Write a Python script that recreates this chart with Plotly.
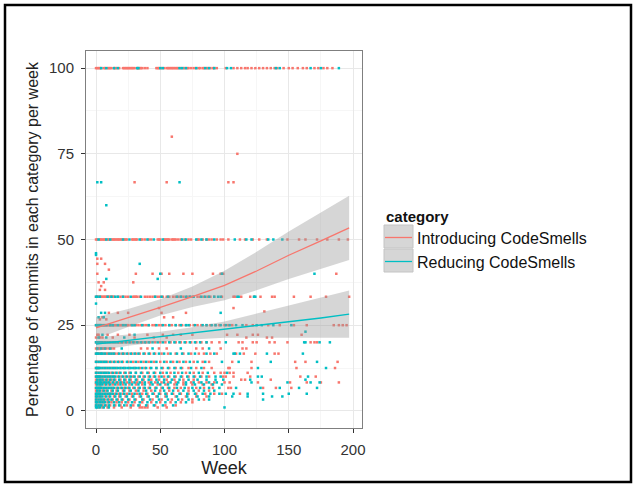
import plotly.graph_objects as go

# ---------------- data ----------------
SERIES = ["Introducing CodeSmells", "Reducing CodeSmells"]
COLORS = ["#F8766D", "#00BFC4"]

# Introducing CodeSmells: percentage level -> weeks where a point sits
INTRO_LEVELS = [100, 80, 75, 66.7, 50, 44.4, 42.9, 41.2, 40, 37.5, 36.4, 35.3,
                33.3, 30, 29, 28.6, 27.3, 26.7, 25, 22.2, 21.4, 20, 18.2, 16.7,
                14.3, 12.5, 11.1, 10, 9.1, 8.3, 7.7, 6.7, 5.9, 5, 4.2, 3.3,
                2.5, 1.6, 1]
INTRO_WEEKS = [
    [0, 1, 2, 3, 4, 6, 7, 9, 10, 11, 12, 14, 15, 16, 18, 21, 22, 23, 24, 25, 26, 27, 28, 29, 30, 32, 33, 34, 35, 36, 38, 40,
     47, 48, 49, 51, 53, 55, 56, 57, 58, 59, 60, 61, 62, 63, 64, 66, 68, 69, 71, 72, 74, 76, 78, 80, 81, 83, 84, 86, 87, 89,
     91, 92, 94, 101, 107, 110, 113, 116, 118, 121, 124, 127, 130, 133, 136, 139, 141, 146, 150, 153, 157, 161, 164, 170,
     173, 177, 180, 184],
    [59],
    [110],
    [30, 55, 103, 107],
    [0, 1, 3, 4, 5, 6, 7, 9, 10, 12, 13, 14, 15, 16, 17, 18, 19, 20, 22, 23, 24, 28, 29, 30, 31, 32, 35, 36, 38, 41, 43, 48,
     49, 50, 53, 54, 55, 56, 57, 59, 60, 61, 62, 64, 66, 69, 72, 74, 79, 80, 83, 86, 88, 90, 94, 97, 99, 103, 112, 116, 122,
     127, 133, 149, 158, 163, 172, 180, 189, 196],
    [1, 4],
    [1, 7],
    [10],
    [1, 31, 44, 51, 57, 68, 75, 91, 97, 99, 187],
    [2, 6, 29],
    [4],
    [3, 7],
    [0, 1, 2, 3, 4, 5, 6, 7, 8, 9, 10, 11, 12, 13, 14, 17, 19, 21, 23, 25, 29, 30, 31, 32, 34, 38, 40, 42, 44, 46, 48, 50,
     52, 55, 57, 60, 62, 64, 66, 68, 71, 73, 75, 79, 81, 84, 87, 89, 92, 98, 107, 108, 113, 120, 123, 128, 137, 139, 154,
     167, 179, 197],
    [49, 107],
    [131],
    [10, 17, 25, 51, 70],
    [5, 53, 60],
    [3, 8],
    [0, 1, 2, 3, 4, 5, 6, 7, 8, 9, 10, 11, 12, 13, 14, 15, 16, 18, 19, 20, 22, 24, 25, 27, 29, 31, 33, 35, 37, 39, 41, 44,
     46, 49, 51, 54, 57, 59, 62, 65, 67, 70, 73, 76, 79, 82, 86, 89, 93, 96, 100, 103, 106, 117, 122, 134, 143, 154, 164,
     185, 189, 192, 195],
    [1, 2, 9, 17, 26, 40, 52, 60, 66, 75, 102, 110, 122, 126, 160],
    [0, 3, 5, 13, 30, 45, 55, 117, 133, 137],
    [0, 1, 2, 3, 4, 5, 6, 8, 10, 12, 14, 16, 18, 19, 21, 24, 27, 30, 33, 36, 39, 42, 46, 50, 54, 58, 62, 66, 70, 74, 78, 82,
     86, 90, 96, 111, 114, 122, 125, 135, 139, 149, 167, 170, 172],
    [0, 1, 2, 3, 5, 6, 8, 10, 12, 14, 35, 40, 49, 55, 78, 83, 97, 114, 117],
    [0, 1, 2, 3, 4, 6, 8, 9, 11, 13, 15, 17, 20, 22, 25, 28, 31, 34, 38, 42, 46, 51, 56, 62, 68, 74, 80, 84, 89, 94, 109,
     115, 124, 139, 142],
    [0, 1, 3, 5, 7, 9, 12, 15, 18, 21, 25, 29, 33, 37, 41, 45, 50, 55, 60, 65, 70, 76, 83, 88, 106, 121, 155, 163, 188],
    [0, 1, 2, 4, 6, 8, 10, 12, 14, 16, 19, 22, 26, 30, 34, 38, 42, 47, 52, 57, 62, 67, 72, 78, 84, 90, 103, 104, 121, 156,
     186],
    [0, 1, 3, 5, 7, 9, 12, 15, 18, 22, 26, 31, 36, 41, 46, 52, 58, 64, 70, 76, 83, 92, 97, 100, 104, 107, 118],
    [0, 1, 2, 3, 4, 6, 8, 10, 12, 14, 17, 20, 23, 26, 29, 33, 37, 41, 45, 49, 53, 57, 62, 67, 72, 77, 82, 88, 99, 101, 107,
     120, 159, 171],
    [0, 2, 4, 6, 9, 12, 15, 19, 23, 27, 32, 37, 43, 49, 55, 61, 68, 76, 113, 116, 136],
    [0, 1, 2, 3, 5, 7, 9, 11, 14, 17, 20, 24, 28, 32, 36, 41, 46, 51, 56, 62, 68, 74, 80, 86, 92, 100, 104, 126, 151, 164,
     175, 189],
    [0, 2, 4, 7, 10, 13, 17, 21, 26, 31, 36, 42, 48, 54, 61, 68, 75, 83, 90],
    [0, 1, 2, 3, 4, 5, 7, 9, 11, 13, 16, 19, 22, 25, 29, 33, 37, 41, 46, 51, 56, 61, 66, 72, 78, 84, 91, 103, 105, 130,
     140, 152],
    [0, 2, 5, 8, 12, 16, 21, 26, 31, 37, 43, 50, 57, 64, 72, 80, 88],
    [0, 1, 2, 3, 4, 6, 8, 10, 12, 15, 18, 21, 24, 28, 32, 36, 40, 45, 50, 55, 60, 66, 72, 78, 85, 92, 98, 112],
    [0, 2, 4, 7, 10, 14, 18, 23, 28, 34, 40, 47, 54, 62, 70, 78, 86],
    [0, 1, 3, 5, 7, 10, 13, 17, 21, 26, 31, 37, 44, 51, 59, 67, 75, 84],
    [0, 2, 4, 6, 9, 12, 16, 20, 25, 30, 36, 43, 50, 58, 66, 75],
    [0, 1, 3, 5, 8, 11, 15, 19, 24, 29, 34, 40, 46, 54, 62],
    [2, 5, 9, 14, 20, 27, 34, 36, 38, 40, 48, 55],
]

# Reducing CodeSmells
REDUCE_LEVELS = [100, 66.7, 60, 50, 46, 45.5, 42.9, 40, 38.5, 33.3, 31.3, 28.6,
                 27.3, 25, 23.1, 22.2, 21.4, 20, 18.2, 16.7, 14.3, 12.5, 11.1,
                 10, 9.1, 8.3, 7.7, 6.7, 5.9, 5, 4.2, 3.3, 2.5, 1.6, 1]
REDUCE_WEEKS = [
    [4, 8, 14, 17, 32, 33, 50, 52, 65, 67, 70, 78, 85, 88, 92, 102, 105, 140, 143, 167, 175, 189],
    [1, 4, 65],
    [8],
    [2, 8, 11, 21, 26, 34, 40, 45, 52, 67, 70, 78, 82, 86, 92, 108, 117, 121, 134, 138, 145],
    [0],
    [0],
    [34],
    [50, 98, 170],
    [8, 48],
    [0, 1, 3, 9, 12, 15, 17, 21, 27, 35, 46, 51, 56, 63, 66, 70, 73, 76, 82, 85, 88, 92, 95, 97, 110, 111, 123, 124],
    [0],
    [4, 7, 97],
    [2, 6],
    [0, 1, 2, 3, 4, 6, 8, 11, 13, 17, 21, 23, 28, 30, 36, 41, 47, 52, 57, 62, 66, 70, 72, 77, 83, 86, 90, 93, 97, 101, 104,
     109, 114, 125, 129, 138, 152],
    [163],
    [5, 30],
    [2, 8, 22],
    [0, 1, 2, 3, 4, 5, 7, 9, 11, 13, 15, 17, 20, 23, 26, 29, 32, 35, 38, 41, 44, 48, 52, 57, 61, 65, 69, 73, 77, 81, 86,
     101, 162, 163, 174, 182],
    [1, 4, 7, 11, 20, 44, 66, 88],
    [0, 1, 2, 4, 5, 7, 10, 12, 14, 18, 21, 24, 27, 30, 33, 37, 41, 45, 49, 53, 58, 63, 67, 72, 77, 86, 92, 107, 108, 112,
     133, 161],
    [0, 2, 4, 6, 8, 11, 14, 17, 20, 24, 27, 31, 35, 39, 43, 47, 53, 58, 63, 68, 73, 79, 85, 98, 111, 136, 172],
    [0, 1, 2, 3, 5, 7, 9, 11, 13, 15, 17, 19, 21, 23, 25, 27, 29, 31, 33, 36, 39, 43, 47, 51, 56, 61, 66, 74, 82, 126, 179],
    [0, 2, 4, 6, 8, 10, 13, 16, 19, 23, 27, 31, 35, 40, 45, 50, 55, 61, 67, 73, 80, 87, 102],
    [0, 1, 2, 3, 5, 7, 9, 11, 13, 15, 18, 21, 24, 27, 30, 34, 38, 42, 46, 51, 56, 61, 66, 71, 76, 81, 86, 93, 97, 126, 129,
     165],
    [1, 3, 5, 8, 11, 14, 18, 22, 26, 31, 36, 41, 47, 53, 59, 65, 72, 79, 86, 93, 99, 120, 163],
    [0, 1, 3, 4, 6, 8, 10, 13, 16, 19, 22, 26, 30, 34, 38, 43, 48, 53, 58, 64, 70, 76, 82, 88, 94, 121, 149, 167, 174],
    [1, 3, 5, 8, 11, 15, 19, 23, 28, 33, 38, 44, 50, 56, 63, 70, 77, 84, 91, 98],
    [0, 1, 2, 3, 4, 6, 8, 10, 12, 14, 17, 20, 23, 26, 30, 34, 38, 42, 47, 52, 57, 63, 69, 75, 81, 88, 96, 109, 128, 143,
     158, 172],
    [1, 3, 6, 9, 13, 17, 22, 27, 33, 39, 46, 53, 60, 68, 76, 84, 92],
    [0, 1, 2, 3, 5, 7, 9, 11, 13, 16, 19, 22, 26, 30, 34, 39, 44, 49, 54, 59, 65, 71, 77, 83, 89, 96, 101, 107, 118, 130,
     150, 164],
    [0, 1, 3, 5, 8, 11, 15, 19, 24, 29, 35, 41, 48, 55, 63, 71, 79, 88, 106, 118, 137, 145],
    [0, 2, 4, 6, 9, 12, 16, 20, 25, 30, 36, 42, 49, 56, 64, 72, 80, 88, 130],
    [0, 1, 3, 5, 7, 10, 14, 18, 23, 28, 34, 40, 47, 54, 62, 70],
    [0, 2, 4, 7, 10, 14, 18, 22, 27, 33, 39, 45, 52, 60],
    [0, 1, 3, 6, 10, 100],
]

# smoothed trend with confidence band
SMOOTH_WEEKS = [0, 25, 50, 75, 100, 125, 150, 175, 197]
INTRO_FIT = [24.2, 27.1, 30.2, 33.3, 36.6, 40.8, 45.4, 49.6, 53.4]
INTRO_LOW = [21.0, 24.5, 27.8, 30.3, 32.3, 35.2, 38.5, 41.4, 44.0]
INTRO_HIGH = [27.4, 29.7, 32.6, 36.3, 40.9, 46.4, 52.3, 57.8, 62.8]
REDUCE_FIT = [19.5, 20.6, 21.6, 22.6, 23.7, 24.9, 26.0, 27.1, 28.2]
REDUCE_LOW = [17.5, 19.0, 20.1, 20.8, 21.3, 21.4, 21.3, 21.3, 21.3]
REDUCE_HIGH = [21.5, 22.2, 23.1, 24.4, 26.1, 28.4, 30.7, 32.9, 35.1]

X_TICKS = [0, 50, 100, 150, 200]
Y_TICKS = [0, 25, 50, 75, 100]


def flatten(levels, weeks):
    xs, ys = [], []
    for lv, wk in zip(levels, weeks):
        for w in wk:
            xs.append(w)
            ys.append(lv)
    return xs, ys


fig = go.Figure()

for name, col, lv, wk in [(SERIES[0], COLORS[0], INTRO_LEVELS, INTRO_WEEKS),
                          (SERIES[1], COLORS[1], REDUCE_LEVELS, REDUCE_WEEKS)]:
    xs, ys = flatten(lv, wk)
    fig.add_trace(go.Scatter(x=xs, y=ys, mode="markers", name=name, showlegend=False,
                             marker=dict(symbol="square", size=2.5, color=col, line=dict(width=0))))

BAND = "rgba(153,153,153,0.4)"
for col, fit, lo, hi in [(COLORS[0], INTRO_FIT, INTRO_LOW, INTRO_HIGH),
                         (COLORS[1], REDUCE_FIT, REDUCE_LOW, REDUCE_HIGH)]:
    fig.add_trace(go.Scatter(x=SMOOTH_WEEKS + SMOOTH_WEEKS[::-1], y=hi + lo[::-1],
                             fill="toself", fillcolor=BAND, line=dict(width=0),
                             mode="lines", showlegend=False, hoverinfo="skip"))
    fig.add_trace(go.Scatter(x=SMOOTH_WEEKS, y=fit, mode="lines", showlegend=False,
                             line=dict(color=col, width=1.3)))

# ---------------- layout ----------------
L, R, T, B = 86, 362, 51, 428
W, H = 634, 485
pw, ph = R - L, B - T


def px(x):
    return (x - L) / pw


def py(y):
    return (B - y) / ph


FONT = "Liberation Sans, Arial, sans-serif"

axis_common = dict(showline=True, mirror=True, linecolor="#7F7F7F", linewidth=1,
                   ticks="outside", ticklen=4, tickcolor="#333333", tickwidth=1,
                   gridcolor="#E8E8E8", gridwidth=1, zeroline=False,
                   tickfont=dict(family=FONT, size=15, color="#333333"),
                   ticklabelstandoff=4)

fig.update_layout(
    width=W, height=H,
    margin=dict(l=L, r=W - R, t=T, b=H - B),
    paper_bgcolor="white", plot_bgcolor="white",
    showlegend=False,
    xaxis=dict(range=[-7.8, 207.0], tickvals=X_TICKS, ticktext=[str(v) for v in X_TICKS],
               minor=dict(dtick=25, tick0=25, showgrid=True, gridcolor="#F6F6F6", ticks=""),
               title=dict(text="Week", font=dict(family=FONT, size=18, color="#222222"), standoff=3),
               **axis_common),
    yaxis=dict(range=[-5, 105], tickvals=Y_TICKS, ticktext=[str(v) for v in Y_TICKS],
               minor=dict(dtick=25, tick0=12.5, showgrid=True, gridcolor="#F6F6F6", ticks=""),
               title=dict(text="Percentage of commits in each category per week",
                          font=dict(family=FONT, size=16, color="#222222"), standoff=6),
               **axis_common),
)

shapes = []
# outer black frame
shapes.append(dict(type="rect", xref="paper", yref="paper",
                   x0=px(5), x1=px(631), y0=py(482), y1=py(5),
                   line=dict(color="black", width=2.5), fillcolor="rgba(0,0,0,0)", layer="above"))
annotations = []
# legend (manual, ggplot style)
annotations.append(dict(xref="paper", yref="paper", x=px(384), y=py(216), xanchor="left", yanchor="middle",
                        text="<b>category</b>", showarrow=False,
                        font=dict(family=FONT, size=15, color="#111111")))
key_tops = [225, 249]
for i, (name, col) in enumerate(zip(SERIES, COLORS)):
    t = key_tops[i]
    shapes.append(dict(type="rect", xref="paper", yref="paper",
                       x0=px(384), x1=px(413), y0=py(t + 23), y1=py(t),
                       fillcolor="#D6D6D6", line=dict(color="#C4C4C4", width=1)))
    shapes.append(dict(type="line", xref="paper", yref="paper",
                       x0=px(385), x1=px(412), y0=py(t + 12.5), y1=py(t + 12.5),
                       line=dict(color=col, width=1.3)))
    annotations.append(dict(xref="paper", yref="paper", x=px(415), y=py(t + 13), xanchor="left",
                            yanchor="middle", text=name, showarrow=False,
                            font=dict(family=FONT, size=16, color="#111111")))

fig.update_layout(shapes=shapes, annotations=annotations)

fig.write_html("out.html", config={"displayModeBar": False},
               post_script="document.body.style.margin='0px';document.body.style.overflow='hidden';")
